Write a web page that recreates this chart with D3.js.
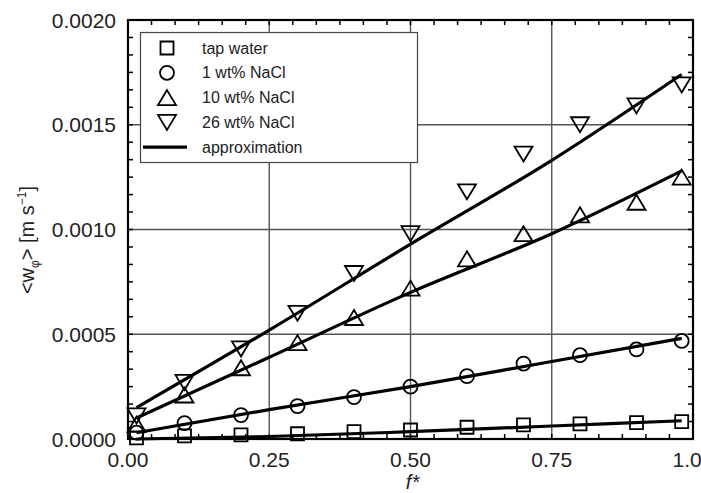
<!DOCTYPE html>
<html>
<head>
<meta charset="utf-8">
<script src="https://cdn.jsdelivr.net/npm/d3@7"></script>
<style>
  body { margin: 0; background: #fff; }
  svg { font-family: "Liberation Sans", Arial, sans-serif; }
</style>
</head>
<body>
<svg id="chart"></svg>
<script>
var width = 701;
var height = 493;
var margin = { top: 20, bottom: 54, left: 128, right: 8 };

// measured points (f*)
var fVals = [0.015, 0.1, 0.2, 0.3, 0.4, 0.5, 0.6, 0.7, 0.8, 0.9, 0.98];
var tapWater = [0.000005, 0.000015, 0.00002, 0.000025, 0.000035, 0.000043, 0.000056, 0.000067, 0.000072, 0.000078, 0.000083];
var nacl1 = [0.00003, 0.000076, 0.000114, 0.000157, 0.0002, 0.00025, 0.0003, 0.00036, 0.0004, 0.000428, 0.000468];
var nacl10 = [0.00007, 0.00021, 0.00034, 0.00046, 0.00058, 0.00072, 0.00086, 0.00098, 0.00107, 0.00113, 0.00125];
var nacl26 = [0.00011, 0.00027, 0.00043, 0.0006, 0.00079, 0.00098, 0.00118, 0.00136, 0.0015, 0.00159, 0.00169];

// approximation curves
var fitF = [0.015, 0.25, 0.5, 0.75, 0.98];
var fitTap = [0.0, 0.000012, 0.000035, 0.000062, 0.000087];
var fitNacl1 = [0.00003, 0.00014, 0.00025, 0.00037, 0.00048];
var fitNacl10 = [0.0001, 0.00039, 0.0007, 0.00098, 0.00128];
var fitNacl26 = [0.00015, 0.00052, 0.00093, 0.00133, 0.00174];

var xTicks = [0, 0.25, 0.5, 0.75, 1.0];
var xTickLabels = ["0.00", "0.25", "0.50", "0.75", "1.0"];
var yTicks = [0, 0.0005, 0.001, 0.0015, 0.002];
var legendLabels = ["tap water", "1 wt% NaCl", "10 wt% NaCl", "26 wt% NaCl", "approximation"];

var series = [
  { name: "tap water", vals: tapWater, fit: fitTap, shape: "square" },
  { name: "1 wt% NaCl", vals: nacl1, fit: fitNacl1, shape: "circle" },
  { name: "10 wt% NaCl", vals: nacl10, fit: fitNacl10, shape: "up" },
  { name: "26 wt% NaCl", vals: nacl26, fit: fitNacl26, shape: "down" }
];

var svg = d3.select('#chart')
  .attr('width', width)
  .attr('height', height);

var x = d3.scaleLinear().domain([0, 1]).range([margin.left, width - margin.right]);
var y = d3.scaleLinear().domain([0, 0.002]).range([height - margin.bottom, margin.top]);

// marker paths, centred on bbox
function marker(shape) {
  if (shape === "square") return "M-6.5,-6.5H6.5V6.5H-6.5Z";
  if (shape === "circle") return "M7,0A7,7 0 1,1 -7,0A7,7 0 1,1 7,0Z";
  if (shape === "up") return "M0,-7.5L9,7.5L-9,7.5Z";
  return "M0,7.5L9,-7.5L-9,-7.5Z";
}

///////////////////////////////////////////////////////////////
// grid
svg.append("g").selectAll("line.gx")
  .data(xTicks.slice(1, -1))
  .join("line")
    .attr("x1", d => x(d)).attr("x2", d => x(d))
    .attr("y1", y(0)).attr("y2", y(0.002))
    .attr("stroke", "#555").attr("stroke-width", 1.4);

svg.append("g").selectAll("line.gy")
  .data(yTicks.slice(1, -1))
  .join("line")
    .attr("x1", x(0)).attr("x2", x(1))
    .attr("y1", d => y(d)).attr("y2", d => y(d))
    .attr("stroke", "#555").attr("stroke-width", 1.4);

///////////////////////////////////////////////////////////////
// fits
var line = d3.line()
  .x((d, i) => x(fitF[i]))
  .y(d => y(d))
  .curve(d3.curveMonotoneX);

svg.append("g").selectAll("path")
  .data(series)
  .join("path")
    .attr("d", s => line(s.fit))
    .attr("fill", "none")
    .attr("stroke", "#000")
    .attr("stroke-width", 3.2);

// markers
series.forEach(s => {
  svg.append("g").selectAll("path")
    .data(s.vals)
    .join("path")
      .attr("transform", (d, i) => "translate(" + x(fVals[i]) + "," + y(d) + ")")
      .attr("d", marker(s.shape))
      .attr("fill", "none")
      .attr("stroke", "#000")
      .attr("stroke-width", 1.8);
});

///////////////////////////////////////////////////////////////
// minor ticks inside, all four sides (6 per major interval)
var xMinor = d3.range(0, 25).map(i => i / 24);
var yMinor = d3.range(0, 25).map(i => i * 0.002 / 24);

var tk = svg.append("g").attr("stroke", "#000").attr("stroke-width", 1.5);
tk.selectAll("line.xb").data(xMinor).join("line")
  .attr("x1", d => x(d)).attr("x2", d => x(d))
  .attr("y1", y(0)).attr("y2", y(0) - 5);
tk.selectAll("line.xt").data(xMinor).join("line")
  .attr("x1", d => x(d)).attr("x2", d => x(d))
  .attr("y1", y(0.002)).attr("y2", y(0.002) + 5);
tk.selectAll("line.yl").data(yMinor).join("line")
  .attr("x1", x(0)).attr("x2", x(0) + 5)
  .attr("y1", d => y(d)).attr("y2", d => y(d));
tk.selectAll("line.yr").data(yMinor).join("line")
  .attr("x1", x(1)).attr("x2", x(1) - 5)
  .attr("y1", d => y(d)).attr("y2", d => y(d));

// frame
svg.append("rect")
  .attr("x", x(0)).attr("y", y(0.002))
  .attr("width", x(1) - x(0)).attr("height", y(0) - y(0.002))
  .attr("fill", "none").attr("stroke", "#000").attr("stroke-width", 2.2);

///////////////////////////////////////////////////////////////
// tick labels
svg.append("g").selectAll("text")
  .data(yTicks)
  .join("text")
    .attr("x", x(0) - 12)
    .attr("y", d => y(d))
    .attr("dy", "0.36em")
    .attr("text-anchor", "end")
    .style("font-size", "21px")
    .attr("fill", "#222")
    .text(d => d3.format(".4f")(d));

// last label sits at the right edge, start-anchored like the others' left side
svg.append("g").selectAll("text")
  .data(xTicks)
  .join("text")
    .attr("x", (d, i) => i < 4 ? x(d) : x(d) - 20.5)
    .attr("y", y(0) + 28)
    .attr("text-anchor", (d, i) => i < 4 ? "middle" : "start")
    .style("font-size", "21px")
    .attr("fill", "#222")
    .text((d, i) => xTickLabels[i]);

// axis labels
svg.append("text")
  .attr("x", x(0.5) + 2)
  .attr("y", 489)
  .attr("text-anchor", "middle")
  .style("font-size", "20px")
  .style("font-style", "italic")
  .attr("fill", "#222")
  .text("f*");

var yl = svg.append("text")
  .attr("transform", "translate(34,240) rotate(-90)")
  .attr("text-anchor", "middle")
  .style("font-size", "20px")
  .attr("fill", "#222");
yl.append("tspan").text("<w");
yl.append("tspan").attr("dy", 5).style("font-size", "12px").text("φ");
yl.append("tspan").attr("dy", -5).text("> [m s");
yl.append("tspan").attr("dy", -8).style("font-size", "12px").text("−1");
yl.append("tspan").attr("dy", 8).text("]");

///////////////////////////////////////////////////////////////
// legend
var lg = svg.append("g");
lg.append("rect")
  .attr("x", 140.5).attr("y", 32.5)
  .attr("width", 277).attr("height", 130)
  .attr("fill", "#fff").attr("stroke", "#444").attr("stroke-width", 1.2);

var rows = lg.selectAll("g.row")
  .data(legendLabels)
  .join("g")
    .attr("transform", (d, i) => "translate(0," + (48 + i * 24.8) + ")");

rows.append("text")
  .attr("x", 202)
  .attr("dy", "0.35em")
  .style("font-size", "16px")
  .attr("fill", "#222")
  .text(d => d);

rows.filter((d, i) => i < 4).append("path")
  .attr("transform", "translate(167,0)")
  .attr("d", (d, i) => marker(series[i].shape))
  .attr("fill", "none")
  .attr("stroke", "#000")
  .attr("stroke-width", 1.8);

rows.filter((d, i) => i === 4).append("line")
  .attr("x1", 143).attr("x2", 187)
  .attr("stroke", "#000").attr("stroke-width", 3.2);
</script>
</body>
</html>
